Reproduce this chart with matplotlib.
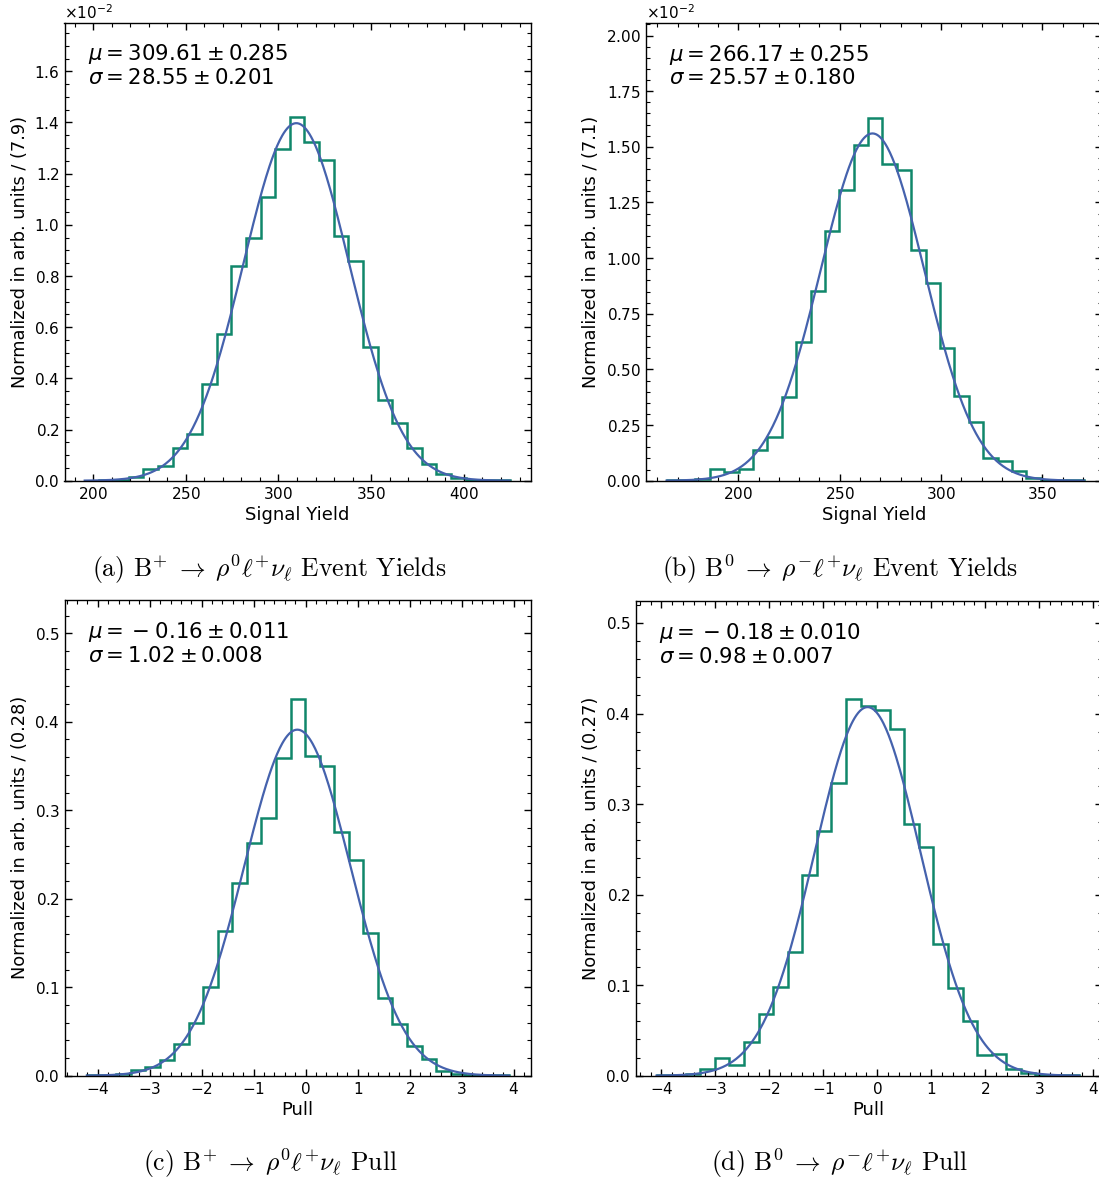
import numpy as np
import matplotlib
matplotlib.use("Agg")
import matplotlib.pyplot as plt
from matplotlib.ticker import AutoMinorLocator, MultipleLocator, ScalarFormatter

# ---------------- data ----------------
# (a) B+ event yields, histogram density in units of 1e-2
a_start, a_width = 195.5, 7.9
a_heights = [0.000, 0.001, 0.003, 0.013, 0.044, 0.056, 0.126, 0.184, 0.376, 0.575,
             0.841, 0.947, 1.110, 1.295, 1.421, 1.323, 1.252, 0.958, 0.857, 0.523,
             0.315, 0.226, 0.127, 0.065, 0.025, 0.011, 0.004, 0.001, 0.001]
a_mu, a_mu_err, a_sigma, a_sigma_err = 309.61, 0.285, 28.55, 0.201

# (b) B0 event yields
b_start, b_width = 164.6, 7.1
b_heights = [0.001, 0.003, 0.006, 0.053, 0.040, 0.052, 0.140, 0.195, 0.378, 0.625,
             0.854, 1.120, 1.305, 1.508, 1.631, 1.421, 1.394, 1.035, 0.888, 0.594,
             0.381, 0.264, 0.100, 0.088, 0.043, 0.012, 0.005, 0.001, 0.001]
b_mu, b_mu_err, b_sigma, b_sigma_err = 266.17, 0.255, 25.57, 0.180

# (c) B+ pull
c_start, c_width = -4.21, 0.28
c_heights = [0.0005, 0.001, 0.002, 0.007, 0.010, 0.018, 0.036, 0.060, 0.100, 0.163,
             0.218, 0.263, 0.291, 0.359, 0.426, 0.361, 0.350, 0.276, 0.244, 0.161,
             0.088, 0.058, 0.034, 0.019, 0.005, 0.002, 0.001, 0.0005, 0.0003]
c_mu, c_mu_err, c_sigma, c_sigma_err = -0.16, 0.011, 1.02, 0.008

# (d) B0 pull
d_start, d_width = -4.09, 0.27
d_heights = [0.001, 0.001, 0.002, 0.0075, 0.019, 0.012, 0.037, 0.068, 0.0985, 0.137,
             0.222, 0.270, 0.323, 0.4164, 0.4086, 0.404, 0.383, 0.278, 0.253, 0.145,
             0.0974, 0.060, 0.0228, 0.024, 0.0078, 0.003, 0.001, 0.0004, 0.0004]
d_mu, d_mu_err, d_sigma, d_sigma_err = -0.18, 0.010, 0.98, 0.007

captions = [
    r"(a) $\mathrm{B}^{+} \;\rightarrow\; \rho^{0}\ell^{+}\nu_{\ell}$ Event Yields",
    r"(b) $\mathrm{B}^{0} \;\rightarrow\; \rho^{-}\ell^{+}\nu_{\ell}$ Event Yields",
    r"(c) $\mathrm{B}^{+} \;\rightarrow\; \rho^{0}\ell^{+}\nu_{\ell}$ Pull",
    r"(d) $\mathrm{B}^{0} \;\rightarrow\; \rho^{-}\ell^{+}\nu_{\ell}$ Pull",
]
xlabels = ["Signal Yield", "Signal Yield", "Pull", "Pull"]

# ---------------- style ----------------
plt.rcParams["font.family"] = ["DejaVu Sans"]
plt.rcParams["mathtext.fontset"] = "dejavusans"
plt.rcParams["axes.formatter.use_mathtext"] = True

HIST_C = "#10876a"
FIT_C = "#4562ad"

W, H = 1099, 1184
fig = plt.figure(figsize=(W / 100, H / 100), dpi=100)


def px_axes(left, top, right, bottom):
    return fig.add_axes([left / W, 1 - bottom / H, (right - left) / W, (bottom - top) / H])


panels = [
    dict(rect=(64.5, 22.7, 530.7, 480.7), start=a_start, width=a_width, h=a_heights, scale=1e-2,
         mu=a_mu, mue=a_mu_err, sg=a_sigma, sge=a_sigma_err, xlim=(184.6, 436.0), ylim=1.79e-2,
         xmaj=50, ymaj=0.2e-2),
    dict(rect=(645.7, 23.3, 1101.8, 480.7), start=b_start, width=b_width, h=b_heights, scale=1e-2,
         mu=b_mu, mue=b_mu_err, sg=b_sigma, sge=b_sigma_err, xlim=(154.3, 379.3), ylim=2.055e-2,
         xmaj=50, ymaj=0.25e-2),
    dict(rect=(64.5, 599.7, 530.7, 1075.7), start=c_start, width=c_width, h=c_heights, scale=1.0,
         mu=c_mu, mue=c_mu_err, sg=c_sigma, sge=c_sigma_err, xlim=(-4.64, 4.33), ylim=0.538,
         xmaj=1, ymaj=0.1),
    dict(rect=(635.5, 600.7, 1101.8, 1075.7), start=d_start, width=d_width, h=d_heights, scale=1.0,
         mu=d_mu, mue=d_mu_err, sg=d_sigma, sge=d_sigma_err, xlim=(-4.48, 4.16), ylim=0.5246,
         xmaj=1, ymaj=0.1),
]

for i, p in enumerate(panels):
    ax = px_axes(*p["rect"])
    h = np.asarray(p["h"]) * p["scale"]
    edges = p["start"] + p["width"] * np.arange(len(h) + 1)
    ax.stairs(h, edges, color=HIST_C, lw=1.8)
    xs = np.linspace(edges[0], edges[-1], 500)
    ys = np.exp(-0.5 * ((xs - p["mu"]) / p["sg"]) ** 2) / (p["sg"] * np.sqrt(2 * np.pi))
    ax.plot(xs, ys, color=FIT_C, lw=1.6)

    ax.set_xlim(*p["xlim"])
    ax.set_ylim(0, p["ylim"])
    ax.xaxis.set_major_locator(MultipleLocator(p["xmaj"]))
    ax.yaxis.set_major_locator(MultipleLocator(p["ymaj"]))
    ax.xaxis.set_minor_locator(AutoMinorLocator())
    ax.yaxis.set_minor_locator(AutoMinorLocator())
    if p["scale"] != 1.0:
        fmt = ScalarFormatter(useMathText=True)
        fmt.set_powerlimits((0, 0))
        ax.yaxis.set_major_formatter(fmt)
    ax.tick_params(which="both", direction="in", top=True, right=True, labelsize=11)
    ax.tick_params(which="major", length=5, width=1.0)
    ax.tick_params(which="minor", length=3, width=0.8)
    for s in ax.spines.values():
        s.set_linewidth(1.0)
    ax.yaxis.get_offset_text().set_fontsize(11)

    ax.set_xlabel(xlabels[i], fontsize=13, labelpad=3)
    ax.set_ylabel("Normalized in arb. units / ({})".format(p["width"]), fontsize=12.8, labelpad=4)

    if p["mu"] < 0:
        mu_s = r"\,{-}\;" + "{:.2f}".format(-p["mu"])
    else:
        mu_s = "{:.2f}".format(p["mu"])
    txt = (r"$\mu = " + mu_s + r" \pm " + "{:.3f}".format(p["mue"]) + "$\n"
           r"$\sigma = " + "{:.2f}".format(p["sg"]) + r" \pm " + "{:.3f}".format(p["sge"]) + "$")
    ax.text(0.05, 0.958, txt, transform=ax.transAxes, ha="left", va="top",
            fontsize=15.3, linespacing=1.12)

cap_pos = [(269, 569), (840, 569), (270, 1163), (840, 1163)]
for (cx, cy), cap in zip(cap_pos, captions):
    fig.text(cx / W, 1 - cy / H, cap, ha="center", va="center", fontsize=18.5,
             family="cmr10", math_fontfamily="cm")

fig.savefig("out.png", dpi=100)
